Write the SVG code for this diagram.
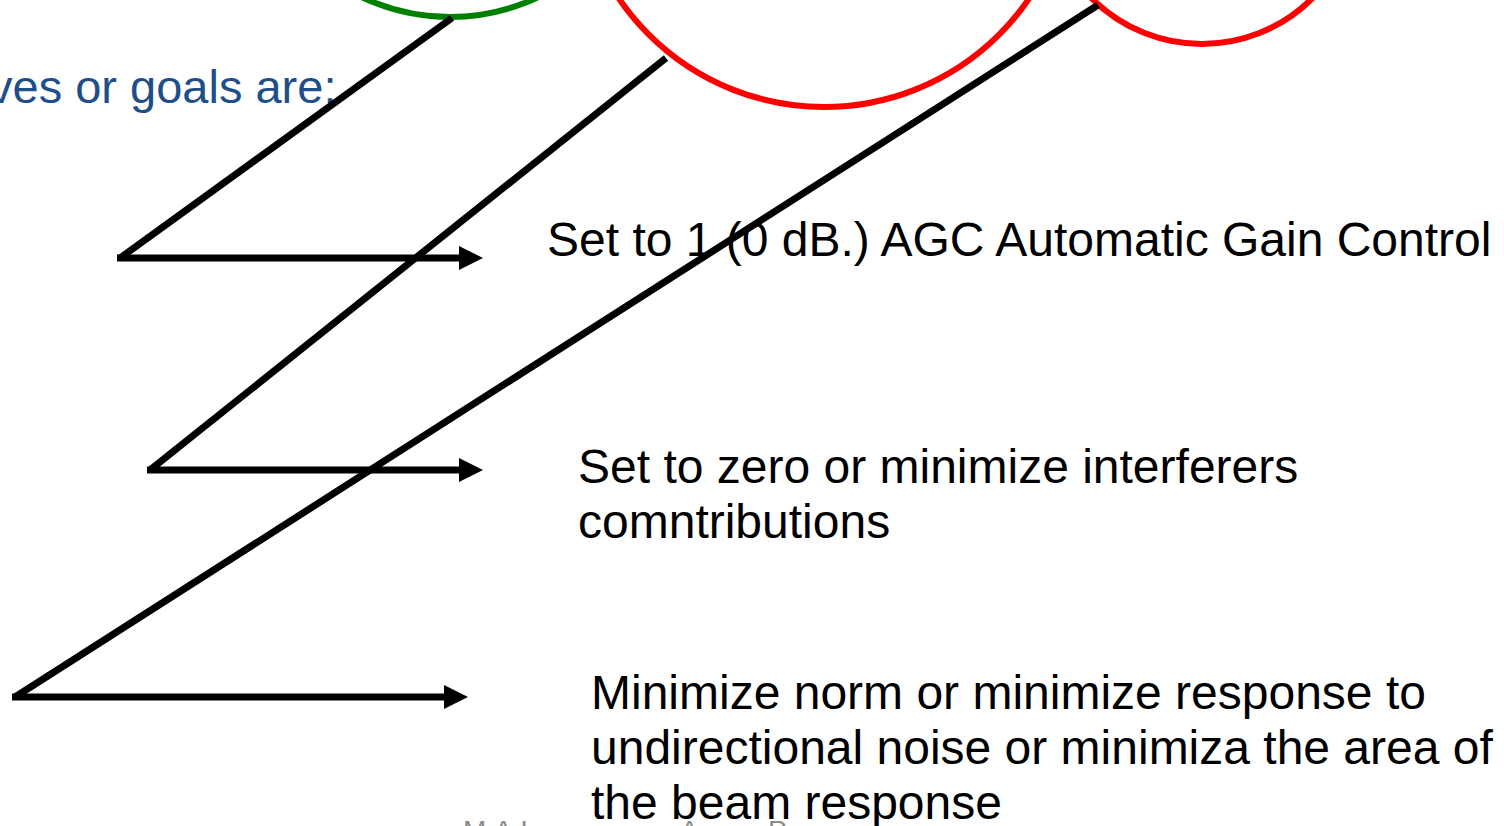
<svg xmlns="http://www.w3.org/2000/svg" width="1504" height="826" viewBox="0 0 1504 826">
  <style>
    .txt { font-family: "Liberation Sans", Arial, sans-serif; font-size: 48px; fill: #000; }
    .head { font-family: "Liberation Sans", Arial, sans-serif; font-size: 47px; fill: #1F4E89; }
    .foot { font-family: "Liberation Sans", Arial, sans-serif; font-size: 28px; fill: #8c8c8c; }
    .ring { fill: none; stroke-width: 6; }
    .wire { fill: none; stroke: #000; stroke-width: 7; stroke-linecap: butt; }
  </style>
  <defs>
    <marker id="head" viewBox="0 0 24 24" refX="0" refY="12" markerWidth="24" markerHeight="24" markerUnits="userSpaceOnUse" orient="auto">
      <path d="M0,0 L24,12 L0,24 Z" fill="#000"/>
    </marker>
  </defs>

  <rect width="1504" height="826" fill="#fff"/>

  <!-- heading -->
  <g id="heading">
    <text class="head" x="-11" y="103">ves or goals are:</text>
  </g>

  <!-- footer, mostly cut off by the page edge -->
  <g id="footer">
    <text class="foot" y="840"><tspan x="463">M.A.L</tspan><tspan x="680">A</tspan><tspan x="768">P</tspan></text>
  </g>

  <!-- constraint rings -->
  <g id="ring-green">
    <circle class="ring" cx="450" cy="-189" r="206" stroke="#008000"/>
  </g>
  <g id="ring-red-large">
    <circle class="ring" cx="824" cy="-141" r="248" stroke="#ff0000"/>
  </g>
  <g id="ring-red-small">
    <circle class="ring" cx="1202" cy="-112" r="156" stroke="#ff0000"/>
  </g>

  <!-- labels -->
  <g id="label-agc">
    <text class="txt" x="547" y="256">Set to 1 (0 dB.) AGC Automatic Gain Control</text>
  </g>
  <g id="label-interferers">
    <text class="txt" x="578" y="483">Set to zero or minimize interferers</text>
    <text class="txt" x="578" y="538">comntributions</text>
  </g>
  <g id="label-norm">
    <text class="txt" x="591" y="709">Minimize norm or minimize response to</text>
    <text class="txt" x="591" y="764">undirectional noise or minimiza the area of</text>
    <text class="txt" x="591" y="819">the beam response</text>
  </g>

  <!-- connectors -->
  <g id="connectors">
    <line class="wire" x1="452" y1="18" x2="120" y2="258"/>
    <line class="wire" x1="117" y1="258" x2="459" y2="258" marker-end="url(#head)"/>

    <line class="wire" x1="666" y1="58" x2="150" y2="470"/>
    <line class="wire" x1="147" y1="470" x2="459" y2="470" marker-end="url(#head)"/>

    <line class="wire" x1="1098" y1="5" x2="15" y2="697"/>
    <line class="wire" x1="12" y1="697" x2="444" y2="697" marker-end="url(#head)"/>
  </g>
</svg>
